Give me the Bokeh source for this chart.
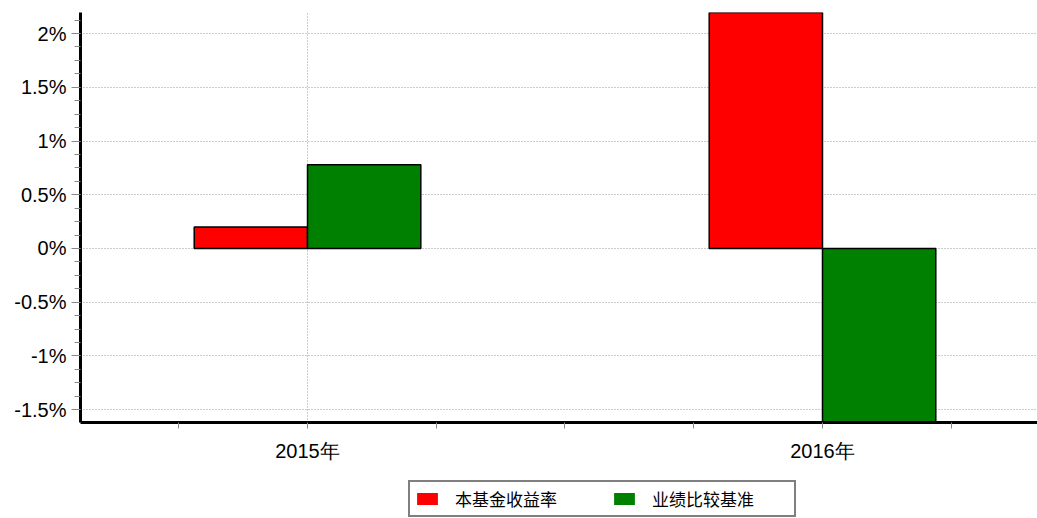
from bokeh.plotting import figure
from bokeh.layouts import column
from bokeh.models import (ColumnDataSource, FixedTicker, CustomJSTickFormatter,
                          Range1d, Legend, LegendItem)
from bokeh.transform import dodge
from bokeh.embed import file_html
from bokeh.resources import INLINE

# ---- data ----
categories = ["2015年", "2016年"]
series_names = ["本基金收益率", "业绩比较基准"]
series_colors = ["#ff0000", "#008000"]
fund_return = [0.2, 2.45]        # percent
benchmark_return = [0.78, -1.8]  # percent
y_ticks = [-1.5, -1.0, -0.5, 0.0, 0.5, 1.0, 1.5, 2.0]

xi = list(range(len(categories)))
src = ColumnDataSource(dict(xi=xi, fund=fund_return, bench=benchmark_return))

W = 1037
p = figure(width=W, height=470, output_backend="svg", toolbar_location=None,
           x_range=Range1d(-0.4408, 1.4175), y_range=Range1d(-1.62, 2.196),
           min_border_left=80, min_border_right=0, min_border_top=12,
           min_border_bottom=48)
p.outline_line_color = None
p.background_fill_color = "white"
p.border_fill_color = "white"

bw = 0.22
r1 = p.vbar(x=dodge("xi", -bw / 2), top="fund", bottom=0, width=bw, source=src,
            fill_color=series_colors[0], line_color="black", line_width=1.5)
r2 = p.vbar(x=dodge("xi", bw / 2), top="bench", bottom=0, width=bw, source=src,
            fill_color=series_colors[1], line_color="black", line_width=1.5)

# x axis
p.xaxis.ticker = FixedTicker(ticks=xi, minor_ticks=[-0.25, 0.25, 0.5, 0.75, 1.25])
p.xaxis.major_label_overrides = {i: c for i, c in enumerate(categories)}
p.xaxis.axis_line_width = 3
p.xaxis.axis_line_color = "black"
p.xaxis.major_tick_line_color = "#888888"
p.xaxis.minor_tick_line_color = "#888888"
p.xaxis.major_tick_in = 0
p.xaxis.major_tick_out = 6
p.xaxis.minor_tick_in = 0
p.xaxis.minor_tick_out = 6
p.xaxis.major_label_standoff = 11
p.xaxis.major_label_text_font = "Liberation Sans"
p.xaxis.major_label_text_font_size = "20px"
p.xaxis.major_label_text_color = "black"

# y axis
minor_y = [-1.625 + 0.125 * k for k in range(32)]
p.yaxis.ticker = FixedTicker(ticks=y_ticks, minor_ticks=minor_y)
p.yaxis.formatter = CustomJSTickFormatter(code="return (Math.round(tick*10)/10) + '%';")
p.yaxis.axis_line_width = 3
p.yaxis.axis_line_color = "black"
p.yaxis.major_tick_line_color = "#888888"
p.yaxis.minor_tick_line_color = "#888888"
p.yaxis.major_tick_in = 0
p.yaxis.major_tick_out = 9
p.yaxis.minor_tick_in = 0
p.yaxis.minor_tick_out = 6
p.yaxis.major_label_standoff = 5
p.yaxis.major_label_text_font = "Liberation Sans"
p.yaxis.major_label_text_font_size = "20px"
p.yaxis.major_label_text_color = "black"

# grids
p.xgrid.grid_line_color = "#999999"
p.xgrid.grid_line_dash = "1 2"
p.ygrid.grid_line_color = "#999999"
p.ygrid.grid_line_dash = "1 2"

# ---- legend strip ----
lg = figure(width=W, height=48, output_backend="svg", toolbar_location=None,
            x_range=Range1d(0, 1), y_range=Range1d(0, 1),
            x_axis_location=None, y_axis_location=None,
            min_border_left=0, min_border_right=0, min_border_top=0,
            min_border_bottom=0)
lg.grid.visible = False
lg.outline_line_color = None
lg.border_fill_color = "white"
lg.background_fill_color = "white"
# zero-height legend proxies (draw nothing themselves)
g1 = lg.vbar(x=[0.5], top=[0], bottom=[0], width=0.01,
             fill_color=series_colors[0], line_color=None)
g2 = lg.vbar(x=[0.5], top=[0], bottom=[0], width=0.01,
             fill_color=series_colors[1], line_color=None)

legend = Legend(items=[LegendItem(label=series_names[0], renderers=[g1]),
                       LegendItem(label=series_names[1], renderers=[g2])],
                orientation="horizontal", location=(328, 1),
                border_line_color="black", border_line_width=2,
                label_text_font="Noto Sans CJK SC", label_text_font_size="17px",
                label_text_color="black", label_width=138, label_height=20,
                glyph_width=26, glyph_height=15, label_standoff=15, spacing=18,
                padding=4, margin=0, background_fill_alpha=1)
lg.add_layout(legend, "center")

layout = column(p, lg, spacing=0)
open("out.html", "w").write(file_html(layout, INLINE))
